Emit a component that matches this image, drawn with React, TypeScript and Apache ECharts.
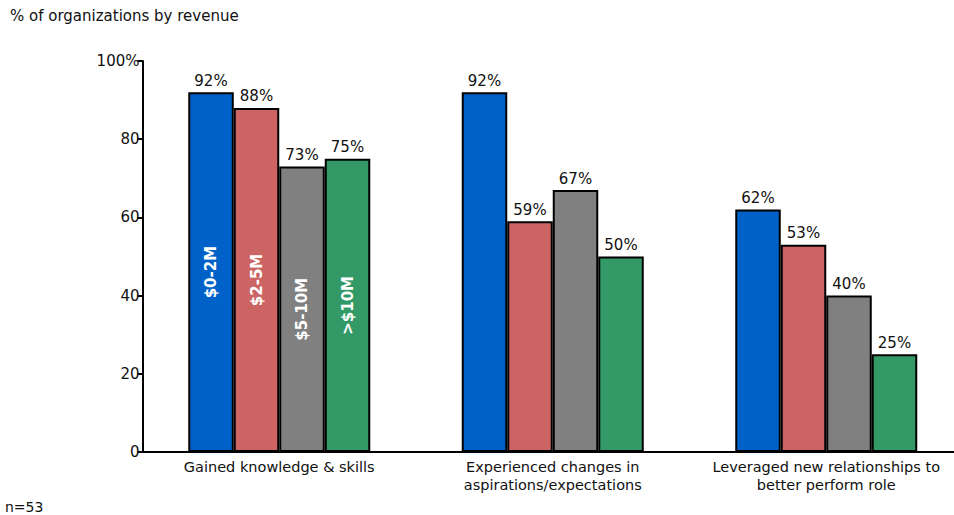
import React, { useEffect, useRef } from "react";
import * as echarts from "echarts";

const categories = [
  "Gained knowledge & skills",
  "Experienced changes in\naspirations/expectations",
  "Leveraged new relationships to\nbetter perform role",
];
const seriesNames = ["$0-2M", "$2-5M", "$5-10M", ">$10M"];
const values0to2 = [92, 92, 62];
const values2to5 = [88, 59, 53];
const values5to10 = [73, 67, 40];
const values10plus = [75, 50, 25];
const colors = ["#0062C9", "#CC6464", "#808080", "#339966"];
const yTicks = [0, 20, 40, 60, 80, 100];

const FONT = "'DejaVu Sans', Verdana, sans-serif";
const BAR_W = 45.5;

export default function App() {
  const ref = useRef<HTMLDivElement>(null);
  useEffect(() => {
    document.body.style.margin = "0";
    document.body.style.overflow = "hidden";
    const chart = echarts.init(ref.current!, null, { renderer: "svg" });
    const allValues = [values0to2, values2to5, values5to10, values10plus];
    const barSeries = allValues.map((vals, i) => ({
      type: "bar",
      name: seriesNames[i],
      data: vals,
      barWidth: BAR_W,
      barGap: "0%",
      itemStyle: { color: colors[i], borderColor: "#000", borderWidth: 2 },
      label: {
        show: true,
        position: "top",
        distance: 4,
        formatter: "{c}%",
        color: "#111",
        fontFamily: FONT,
        fontSize: 15,
      },
    }));
    const insideData = allValues.map((vals, i) => [0, vals[0], i]);
    const insideSeries = {
      type: "custom",
      z: 10,
      data: insideData,
      renderItem: (params: any, api: any) => {
        const idx = api.value(2);
        const c = api.coord([api.value(0), api.value(1) / 2]);
        return {
          type: "text",
          x: c[0] + (idx - 1.5) * BAR_W,
          y: c[1],
          rotation: Math.PI / 2,
          style: {
            text: seriesNames[idx],
            fill: "#fff",
            font: `bold 15px ${FONT}`,
            align: "center",
            verticalAlign: "middle",
          },
        };
      },
    };
    chart.setOption({
      animation: false,
      textStyle: { fontFamily: FONT },
      title: [
        {
          text: "% of organizations by revenue",
          left: 5,
          top: 3,
          textStyle: { fontSize: 15, fontWeight: "normal", color: "#111", fontFamily: FONT },
        },
        {
          text: "n=53",
          left: 5,
          top: 500,
          padding: 0,
          textStyle: { fontSize: 14, fontWeight: "normal", color: "#111", fontFamily: FONT, lineHeight: 14 },
        },
      ],
      grid: { left: 142.5, top: 61, width: 820.5, bottom: 63, containLabel: false },
      xAxis: {
        type: "category",
        data: categories,
        axisLine: { lineStyle: { color: "#000", width: 2 } },
        axisTick: { show: false },
        axisLabel: {
          color: "#111",
          fontSize: 14.5,
          fontFamily: FONT,
          margin: 6,
          lineHeight: 18,
          interval: 0,
        },
      },
      yAxis: {
        type: "value",
        min: 0,
        max: 100,
        interval: 20,
        axisLine: { show: true, lineStyle: { color: "#000", width: 2 } },
        axisTick: { show: true, length: 5, lineStyle: { color: "#000", width: 2 } },
        splitLine: { show: false },
        axisLabel: {
          color: "#111",
          fontSize: 15,
          fontFamily: FONT,
          margin: 3,
          formatter: (v: number) => (v === yTicks[yTicks.length - 1] ? `${v}%` : `${v}`),
        },
      },
      series: [...barSeries, insideSeries],
    });
    return () => chart.dispose();
  }, []);
  return <div ref={ref} style={{ width: 972, height: 515 }} />;
}
